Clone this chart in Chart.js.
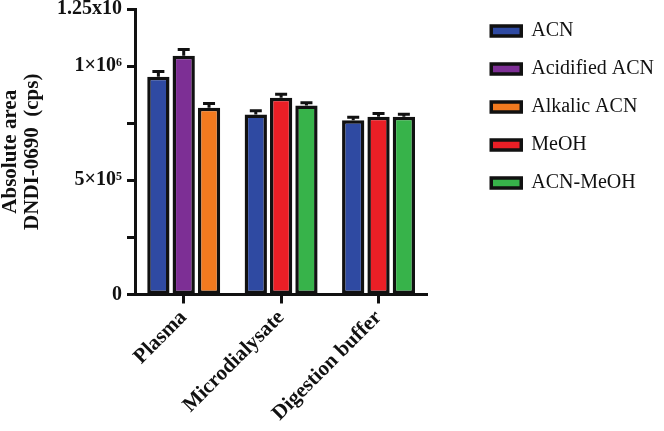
<!DOCTYPE html>
<html>
<head>
<meta charset="utf-8">
<script src="https://cdn.jsdelivr.net/npm/chart.js@4"></script>
<style>
  html, body { margin: 0; padding: 0; background: #fff; }
  #wrap { width: 664px; height: 431px; }
</style>
</head>
<body>
<div id="wrap"><canvas id="chart"></canvas></div>
<script>
// Données
const categories = ["Plasma", "Microdialysate", "Digestion buffer"];
const seriesNames = ["ACN", "Acidified ACN", "Alkalic ACN", "MeOH", "ACN-MeOH"];
const seriesColors = ["#2f4aa2", "#7d2f95", "#f27a1f", "#ea1f26", "#37b34a"];

const acn = [953000, 788000, 763000];
const acidified = [1045000, null, null];
const alkalic = [818000, null, null];
const meoh = [null, 861000, 778000];
const acnMeoh = [null, 827000, 778000];

const acnErr = [23000, 16000, 13000];
const acidifiedErr = [28000, null, null];
const alkalicErr = [18000, null, null];
const meohErr = [null, 16000, 14000];
const acnMeohErr = [null, 13000, 11000];

const yTicks = { 0: "0", 500000: "5×10⁵", 1000000: "1×10⁶", 1250000: "1.25x10" };

const values = [acn, acidified, alkalic, meoh, acnMeoh];
const errors = [acnErr, acidifiedErr, alkalicErr, meohErr, acnMeohErr];

const serif = "'Liberation Serif', 'Times New Roman', serif";

// Barres d'erreur (partie haute seulement)
const errorBars = {
  id: "errorBars",
  afterDatasetsDraw(chart) {
    const ctx = chart.ctx;
    const y = chart.scales.y;
    ctx.save();
    ctx.strokeStyle = "#111";
    ctx.lineWidth = 3;
    chart.data.datasets.forEach((ds, i) => {
      const meta = chart.getDatasetMeta(i);
      meta.data.forEach((bar, j) => {
        const v = ds.data[j];
        const e = errors[i][j];
        if (v == null || e == null) return;
        const yTop = y.getPixelForValue(v + e);
        const yBase = y.getPixelForValue(v);
        ctx.beginPath();
        ctx.moveTo(bar.x, yBase);
        ctx.lineTo(bar.x, yTop);
        ctx.moveTo(bar.x - 6, yTop);
        ctx.lineTo(bar.x + 6, yTop);
        ctx.stroke();
      });
    });
    ctx.restore();
  }
};

new Chart(document.getElementById("chart"), {
  type: "bar",
  data: {
    labels: categories,
    datasets: seriesNames.map((name, i) => ({
      label: name,
      data: values[i],
      backgroundColor: seriesColors[i],
      borderColor: "#111",
      borderWidth: 3.5,
      borderSkipped: false,
      skipNull: true,
      categoryPercentage: 0.78,
      barPercentage: 0.88
    }))
  },
  options: {
    responsive: true,
    maintainAspectRatio: false,
    animation: false,
    layout: { padding: { top: 0, left: 0, right: 0, bottom: 3 } },
    plugins: {
      tooltip: { enabled: false },
      legend: {
        position: "right",
        align: "start",
        maxWidth: 193,
        title: { display: true, text: "", font: { size: 2, lineHeight: 1 }, padding: { top: 0, bottom: 1 } },
        labels: {
          color: "#111",
          font: { family: serif, size: 20 },
          boxWidth: 30,
          boxHeight: 10,
          padding: 18
        }
      }
    },
    scales: {
      x: {
        grid: { drawOnChartArea: false, offset: false, tickLength: 9, tickColor: "#111", tickWidth: 3 },
        border: { color: "#111", width: 3 },
        ticks: {
          color: "#111",
          minRotation: 45,
          maxRotation: 45,
          padding: 2,
          font: { family: serif, size: 21, weight: "bold" }
        }
      },
      y: {
        min: 0,
        max: 1250000,
        afterFit: s => { s.width = 135; s.paddingTop = 9; },
        grid: { drawOnChartArea: false, tickLength: 8, tickColor: "#111", tickWidth: 3 },
        border: { color: "#111", width: 3 },
        ticks: {
          stepSize: 250000,
          color: "#111",
          padding: 5,
          font: { family: serif, size: 20, weight: "bold" },
          callback: v => yTicks[v] !== undefined ? yTicks[v] : ""
        },
        title: {
          display: true,
          text: ["Absolute area", "DNDI-0690  (cps)"],
          color: "#111",
          padding: 0,
          font: { family: serif, size: 21, weight: "bold", lineHeight: 1.05 }
        }
      },
      gap: {
        position: "right",
        display: true,
        afterFit: s => { s.width = 46; },
        grid: { display: false, drawTicks: false },
        border: { display: false },
        ticks: { display: false }
      }
    }
  },
  plugins: [errorBars]
});
</script>
</body>
</html>
